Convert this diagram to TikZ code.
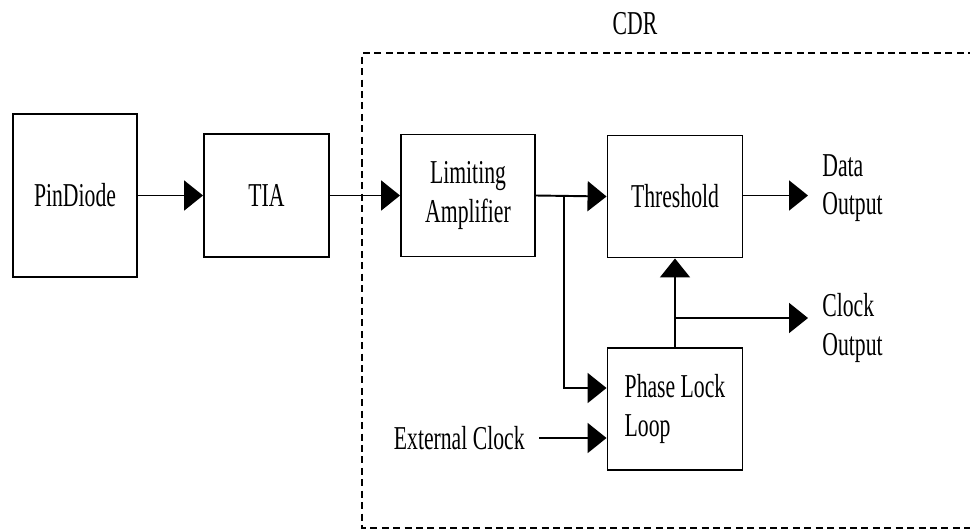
\documentclass[tikz,border=0pt]{standalone}
\usepackage{fontspec}
\setmainfont{Liberation Serif}[FakeStretch=0.65]
\usetikzlibrary{arrows.meta}
\tikzset{
  lbl/.style={font=\fontsize{19}{22}\selectfont, inner sep=0pt},
  block/.style={draw, line width=1.1pt, lbl, align=center},
  sig/.style={line width=1.1pt, -{Triangle[length=0.38cm,width=0.6cm]}},
  wire/.style={line width=1.1pt},
  frame/.style={line width=0.6pt, dash pattern=on 4pt off 2.5pt}
}
\begin{document}
\begin{tikzpicture}[x=0.02cm, y=-0.02cm]
  \useasboundingbox (0,0) rectangle (970,531);

  % CDR boundary (open to the right)
  \coordinate (cdrTR) at (975,53);
  \coordinate (cdrTL) at (362,53);
  \coordinate (cdrBL) at (362,528);
  \coordinate (cdrBR) at (975,528);
  \draw[frame] (cdrTR) -- (cdrTL) -- (cdrBL) -- (cdrBR);
  \node[lbl] (cdr) at (635,24) {CDR};

  % blocks
  \node[block, minimum width=2.48cm, minimum height=3.26cm] (pin) at (75,195.5) {PinDiode};
  \node[block, minimum width=2.5cm, minimum height=2.46cm] (tia) at (266.5,195.5) {TIA};
  \node[block, minimum width=2.68cm, minimum height=2.44cm] (lim) at (468,195.5) {Limiting\\Amplifier};
  \node[block, minimum width=2.7cm, minimum height=2.44cm] (thr) at (675,196.5) {Threshold};
  \node[block, minimum width=2.7cm, minimum height=2.44cm, align=left] (pll) at (675,409) {Phase Lock\\Loop};

  % outer labels
  \node[lbl, align=left, anchor=west] (dout) at (822,188) {Data\\Output};
  \node[lbl, align=left, anchor=west] (cout) at (822,328) {Clock\\Output};
  \node[lbl, anchor=east] (ext) at (525,438) {External Clock};

  % helper points
  \coordinate (split) at (564,195.5);
  \coordinate (bend) at (564,388);
  \coordinate (dend) at (808,195.5);
  \coordinate (ctap) at (675,318);
  \coordinate (cend) at (808,318);
  \coordinate (estart) at (539,438);

  % signal path
  \draw[sig] (pin.east) -- (tia.west);
  \draw[sig] (tia.east) -- (lim.west);
  \draw[sig] (lim.east) -- (thr.west);
  \draw[sig] (split) -- (bend) -- (pll.west |- bend);
  \draw[sig] (thr.east |- dend) -- (dend);
  \draw[sig] (pll.north) -- (thr.south);
  \draw[sig] (ctap) -- (cend);
  \draw[sig] (estart) -- (pll.west |- estart);
\end{tikzpicture}
\end{document}
